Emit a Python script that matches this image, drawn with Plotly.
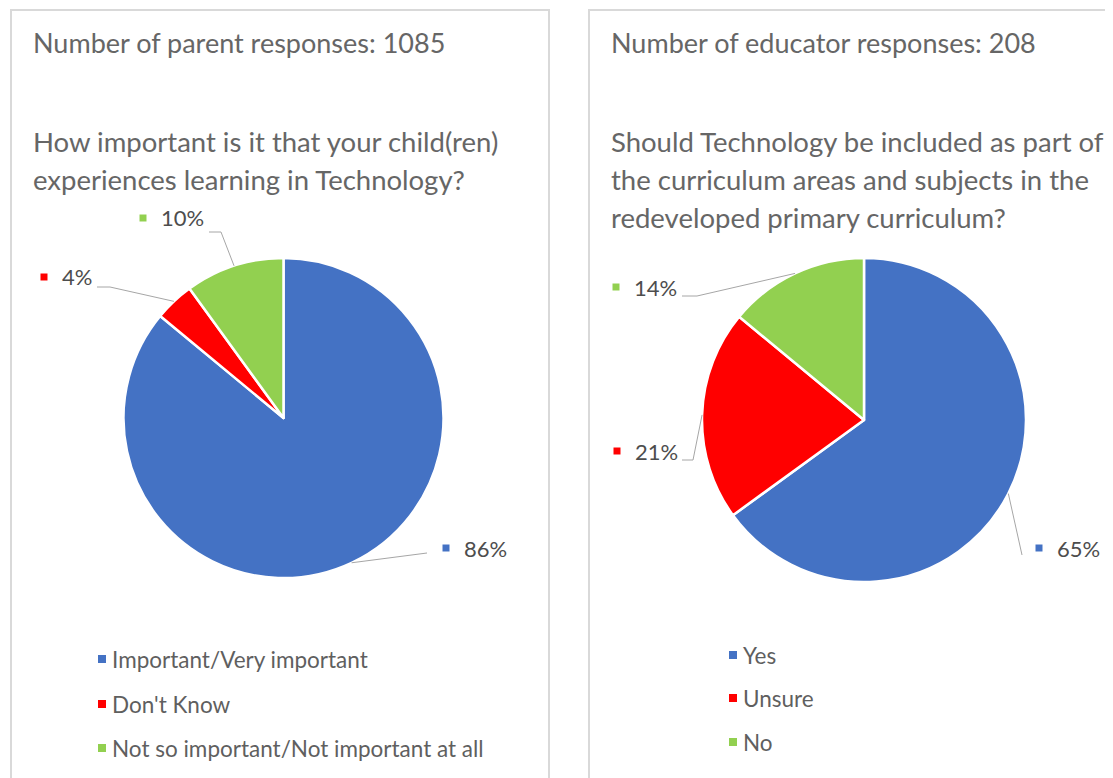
import math
import plotly.graph_objects as go

# page offset of the plot div (browser default body margin)
OFF = 8
W, H = 1113 - OFF, 778 - OFF

# ---- data ----
parent_categories = ["Important/Very important", "Don't Know", "Not so important/Not important at all"]
parent_values = [86, 4, 10]
parent_header = "Number of parent responses: 1085"
parent_question = ["How important is it that your child(ren)", "experiences learning in Technology?"]

educator_categories = ["Yes", "Unsure", "No"]
educator_values = [65, 21, 14]
educator_header = "Number of educator responses: 208"
educator_question = ["Should Technology be included as part of", "the curriculum areas and subjects in the",
                     "redeveloped primary curriculum?"]

colors = ["#4472C4", "#FF0000", "#92D050"]

FONT = "Lato"
TITLE_C = "#666666"
LEG_C = "#5f5f5f"
LABEL_C = "#4d4d4d"
LINE_C = "#A6A6A6"


def px(x):
    return (x - OFF) / W


def py(y):
    return 1 - (y - OFF) / H


fig = go.Figure()
shapes = []
annotations = []

# panel borders
shapes.append(dict(type="rect", xref="paper", yref="paper", x0=px(11), x1=px(549), y0=py(10), y1=py(820),
                   line=dict(color="#D9D9D9", width=2), fillcolor="rgba(0,0,0,0)", layer="below"))
shapes.append(dict(type="rect", xref="paper", yref="paper", x0=px(589), x1=px(1130), y0=py(10), y1=py(820),
                   line=dict(color="#D9D9D9", width=2), fillcolor="rgba(0,0,0,0)", layer="below"))

panels = [
    dict(cats=parent_categories, vals=parent_values, header=parent_header, question=parent_question,
         cx=283.5, cy=418, r=160, tx=33,
         labels=[dict(mx=446, y=548, elbow=[(427, 553)]),
                 dict(mx=44, y=277, elbow=[(97, 287), (110, 287)]),
                 dict(mx=143, y=218, elbow=[(209, 232), (221, 232)])],
         leg_x=102, leg_y=[659, 704, 748]),
    dict(cats=educator_categories, vals=educator_values, header=educator_header, question=educator_question,
         cx=864, cy=420, r=162, tx=611,
         labels=[dict(mx=1039, y=548, elbow=[(1022, 555)]),
                 dict(mx=617, y=451, elbow=[(682, 460), (693, 460)]),
                 dict(mx=616, y=287, elbow=[(682, 296), (697, 296)])],
         leg_x=733, leg_y=[655, 698, 742]),
]

for p in panels:
    cx, cy, r = p["cx"], p["cy"], p["r"]
    fig.add_trace(go.Pie(
        labels=p["cats"], values=p["vals"], sort=False, direction="clockwise", rotation=0,
        marker=dict(colors=colors, line=dict(color="white", width=2.5)),
        textinfo="none", hoverinfo="label+percent", showlegend=False,
        domain=dict(x=[px(cx - r), px(cx + r)], y=[py(cy + r), py(cy - r)]),
    ))

    # header and question text
    annotations.append(dict(xref="paper", yref="paper", x=px(p["tx"] - 2), y=py(43), text=p["header"],
                            showarrow=False, xanchor="left", yanchor="middle",
                            font=dict(family=FONT, size=27, color=TITLE_C)))
    for i, line in enumerate(p["question"]):
        annotations.append(dict(xref="paper", yref="paper", x=px(p["tx"] - 2), y=py(141 + 38.5 * i), text=line,
                                showarrow=False, xanchor="left", yanchor="middle",
                                font=dict(family=FONT, size=27.5, color=TITLE_C)))

    # data labels with leader lines
    total = sum(p["vals"])
    cum = 0
    for val, col, lab in zip(p["vals"], colors, p["labels"]):
        mid = (cum + val / 2) / total * 2 * math.pi
        cum += val
        ex = cx + r * math.sin(mid)
        ey = cy - r * math.cos(mid)
        pts = lab["elbow"] + [(ex, ey)]
        path = "M " + " L ".join(f"{px(x)},{py(y)}" for x, y in pts)
        shapes.append(dict(type="path", xref="paper", yref="paper", path=path,
                           line=dict(color=LINE_C, width=1)))
        s = 3.5
        shapes.append(dict(type="rect", xref="paper", yref="paper",
                           x0=px(lab["mx"] - s), x1=px(lab["mx"] + s),
                           y0=py(lab["y"] + s), y1=py(lab["y"] - s),
                           fillcolor=col, line=dict(width=0)))
        annotations.append(dict(xref="paper", yref="paper", x=px(lab["mx"] + 16), y=py(lab["y"]),
                                text=f"{round(val / total * 100)}%", showarrow=False,
                                xanchor="left", yanchor="middle",
                                font=dict(family=FONT, size=22, color=LABEL_C)))

    # legend
    for cat, col, ly in zip(p["cats"], colors, p["leg_y"]):
        s = 4
        shapes.append(dict(type="rect", xref="paper", yref="paper",
                           x0=px(p["leg_x"] - s), x1=px(p["leg_x"] + s),
                           y0=py(ly + s), y1=py(ly - s), fillcolor=col, line=dict(width=0)))
        annotations.append(dict(xref="paper", yref="paper", x=px(p["leg_x"] + 8), y=py(ly),
                                text=cat, showarrow=False, xanchor="left", yanchor="middle",
                                font=dict(family=FONT, size=22.5, color=LEG_C)))

fig.update_layout(
    width=W, height=H, margin=dict(l=0, r=0, t=0, b=0),
    paper_bgcolor="white", plot_bgcolor="white",
    shapes=shapes, annotations=annotations,
    font=dict(family=FONT),
)

fig.write_html("out.html")
